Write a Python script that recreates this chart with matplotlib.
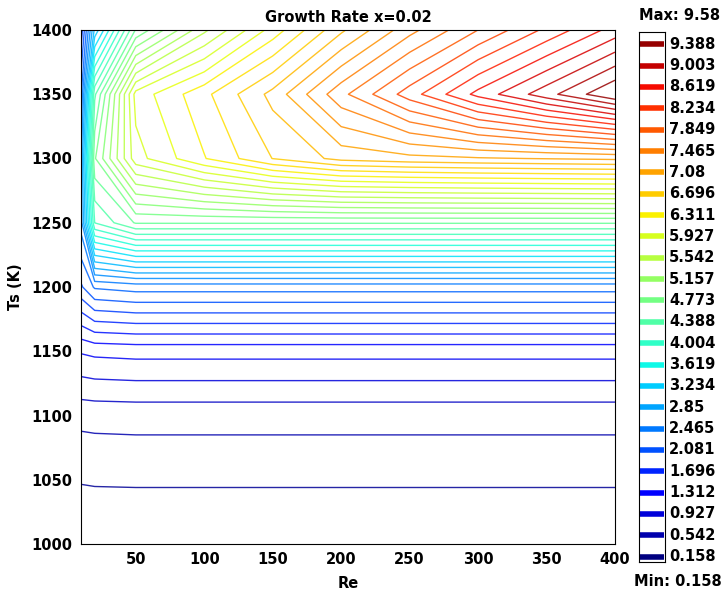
import numpy as np
import matplotlib
matplotlib.use("Agg")
import matplotlib.pyplot as plt

# grid (Re columns, Ts rows)
re_grid = [10, 20, 50, 100, 150, 200, 250, 300, 350, 400]
ts_grid = [1000, 1050, 1100, 1150, 1200, 1250, 1300, 1350, 1400]

rate_1000 = [0.158, 0.165, 0.17, 0.17, 0.17, 0.17, 0.17, 0.17, 0.17, 0.17]
rate_1050 = [0.365, 0.372, 0.375, 0.375, 0.375, 0.375, 0.375, 0.375, 0.375, 0.375]
rate_1100 = [0.6, 0.608, 0.615, 0.615, 0.615, 0.615, 0.615, 0.615, 0.615, 0.615]
rate_1150 = [1.14, 1.17, 1.19, 1.19, 1.19, 1.19, 1.19, 1.19, 1.19, 1.19]
rate_1200 = [2.05, 2.3, 2.36, 2.36, 2.36, 2.36, 2.36, 2.36, 2.36, 2.36]
rate_1250 = [2.55, 4.2, 4.6, 4.6, 4.6, 4.6, 4.6, 4.6, 4.6, 4.6]
rate_1300 = [2.65, 4.75, 5.85, 6.3, 6.7, 6.95, 7.02, 7.06, 7.09, 7.12]
rate_1350 = [2.25, 4.35, 6.0, 6.45, 6.95, 7.6, 8.14, 8.68, 9.12, 9.58]
rate_1400 = [1.75, 3.1, 4.6, 5.5, 6.2, 6.85, 7.4, 7.85, 8.28, 8.7]

rate = np.array([rate_1000, rate_1050, rate_1100, rate_1150, rate_1200,
                 rate_1250, rate_1300, rate_1350, rate_1400])

z_min, z_max = 0.158, 9.58
bar_labels = ["0.158", "0.542", "0.927", "1.312", "1.696", "2.081", "2.465",
              "2.85", "3.234", "3.619", "4.004", "4.388", "4.773", "5.157",
              "5.542", "5.927", "6.311", "6.696", "7.08", "7.465", "7.849",
              "8.234", "8.619", "9.003", "9.388"]

levels = np.linspace(z_min, z_max, 50)
cmap = plt.get_cmap("jet")
norm = plt.Normalize(z_min, z_max)

plt.rcParams['font.family'] = ['DejaVu Sans']
plt.rcParams['font.weight'] = 'bold'

fig = plt.figure(figsize=(7.27, 5.95), dpi=100)
ax = fig.add_axes([81 / 727, 51 / 595, 534 / 727, 514 / 595])

X, Y = np.meshgrid(re_grid, ts_grid)
ax.contour(X, Y, rate, levels=levels, cmap=cmap, norm=norm,
           linewidths=1.0, alpha=0.85)

ax.set_xlim(10, 400)
ax.set_ylim(1000, 1400)
ax.set_xticks([50, 100, 150, 200, 250, 300, 350, 400])
ax.set_yticks([1000, 1050, 1100, 1150, 1200, 1250, 1300, 1350, 1400])
ax.tick_params(length=0, labelsize=10.5, pad=6)
for lab in ax.get_xticklabels() + ax.get_yticklabels():
    lab.set_fontweight('bold')
ax.set_xlabel("Re", fontsize=10.5, fontweight='bold', labelpad=6)
ax.set_ylabel("Ts (K)", fontsize=10.5, fontweight='bold', labelpad=6)
ax.set_title("Growth Rate x=0.02", fontsize=10.5, fontweight='bold', pad=6)

# legend-style colour bar
cax = fig.add_axes([639 / 727, 33.3 / 595, 26 / 727, 529.4 / 595])
for i, lab in enumerate(bar_labels):
    val = float(lab)
    cax.plot([0.05, 0.95], [i, i], color=cmap(norm(val)), lw=4,
             solid_capstyle='butt')
    cax.text(1.15, i, lab, transform=cax.get_yaxis_transform(),
             va='center', ha='left', fontsize=10.5, fontweight='bold')
cax.set_xlim(0, 1)
cax.set_ylim(-0.234, 24.56)
cax.set_xticks([])
cax.set_yticks([])
fig.text(680 / 727, 1 - 15 / 595, "Max: %g" % z_max, ha='center', va='center',
         fontsize=10.5, fontweight='bold')
fig.text(678 / 727, 1 - 581 / 595, "Min: %g" % z_min, ha='center', va='center',
         fontsize=10.5, fontweight='bold')

fig.savefig("out.png", dpi=100)
